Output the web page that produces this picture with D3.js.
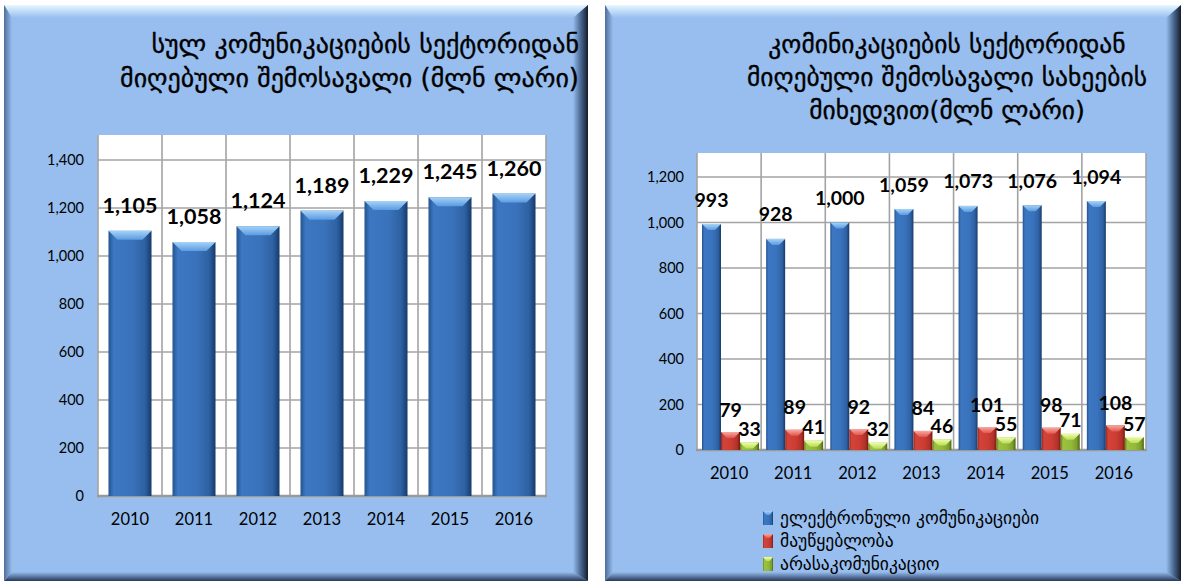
<!DOCTYPE html>
<html><head><meta charset="utf-8">
<script src="https://cdn.jsdelivr.net/npm/d3@7"></script>
<style>
html,body{margin:0;padding:0;background:#fff;}
svg{display:block;}
</style></head>
<body>
<svg id="c" width="1182" height="584"></svg>
<script>
// ---- data ----
const years = ["2010","2011","2012","2013","2014","2015","2016"];
const totalRevenue = [1105,1058,1124,1189,1229,1245,1260];
const electronic = [993,928,1000,1059,1073,1076,1094];
const postal = [79,89,92,84,101,98,108];
const nonCommunication = [33,41,32,46,55,71,57];
const seriesNames = ["ელექტრონული კომუნიკაციები","მაუწყებლობა","არასაკომუნიკაციო"];
const leftTicks = [0,200,400,600,800,1000,1200,1400];
const rightTicks = [0,200,400,600,800,1000,1200];
const leftTitle = ["სულ კომუნიკაციების სექტორიდან","მიღებული შემოსავალი (მლნ ლარი)"];
const rightTitle = ["კომინიკაციების სექტორიდან","მიღებული შემოსავალი სახეების","მიხედვით(მლნ ლარი)"];

const svg = d3.select("#c");
const defs = svg.append("defs");
const BG = "#97BEEF";
const GEO = "'DejaVu Sans', sans-serif";
const NUM = "Lato, 'Open Sans', sans-serif";
const fmt = d3.format(",");

function lg(id, vertical, stops){
  const g = defs.append("linearGradient").attr("id", id)
    .attr("x1",0).attr("y1",0).attr("x2", vertical?0:1).attr("y2", vertical?1:0);
  stops.forEach(([o,c])=>g.append("stop").attr("offset",o).attr("stop-color",c));
}
lg("bvTop", true, [[0,"#E6F7FF"],[1,BG]]);
lg("bvBot", true, [[0,BG],[1,"#26385A"]]);
lg("bvRight", false, [[0,BG],[0.5,"#4C6A93"],[1,"#141D2B"]]);
lg("bvLeft", false, [[0,"#4E6E99"],[1,BG]]);

const palettes = {
  blue:  {side:[[0,"#24538F"],[0.12,"#3C77C2"],[0.55,"#3A73BC"],[0.85,"#2E61A3"],[1,"#173A68"]], top:[[0,"#A6D3F8"],[1,"#5B9BE0"]]},
  red:   {side:[[0,"#9C261E"],[0.12,"#D2443A"],[0.55,"#CC3C32"],[0.85,"#B0322A"],[1,"#771912"]], top:[[0,"#F8A8A0"],[1,"#E0584E"]]},
  green: {side:[[0,"#627F1E"],[0.12,"#9CC23F"],[0.55,"#93B93A"],[0.85,"#7C9E2C"],[1,"#4C6414"]], top:[[0,"#EFFFA8"],[1,"#B8DC55"]]}
};
Object.entries(palettes).forEach(([k,p])=>{ lg("side_"+k,false,p.side); lg("top_"+k,true,p.top); });

function panel(x0,y0,x1,y1){
  const g = svg.append("g");
  g.append("rect").attr("x",x0).attr("y",y0).attr("width",x1-x0).attr("height",y1-y0).attr("fill",BG);
  const t=13,b=9,r=15,l=8;
  g.append("polygon").attr("points",`${x0},${y0} ${x1},${y0} ${x1-r},${y0+t} ${x0+l},${y0+t}`).attr("fill","url(#bvTop)");
  g.append("polygon").attr("points",`${x0},${y1} ${x1},${y1} ${x1-r},${y1-b} ${x0+l},${y1-b}`).attr("fill","url(#bvBot)");
  g.append("polygon").attr("points",`${x1},${y0} ${x1},${y1} ${x1-r},${y1-b} ${x1-r},${y0+t}`).attr("fill","url(#bvRight)");
  g.append("polygon").attr("points",`${x0},${y0} ${x0},${y1} ${x0+l},${y1-b} ${x0+l},${y0+t}`).attr("fill","url(#bvLeft)");
}

function bar3d(g, x, y, w, h, col, bevel){
  g.append("rect").attr("x",x).attr("y",y).attr("width",w).attr("height",Math.max(0,h)).attr("fill",`url(#side_${col})`);
  const bh = Math.min(bevel, h);
  const ins = Math.min(bevel, w/3);
  g.append("polygon")
    .attr("points",`${x},${y} ${x+w},${y} ${x+w-ins},${y+bh} ${x+ins},${y+bh}`)
    .attr("fill",`url(#top_${col})`);
}

function plotFrame(x, y, ticks, top, labelX){
  const [L,R] = x.range();
  const [B] = y.range();
  const g = svg.append("g");
  g.append("rect").attr("x",L).attr("y",top).attr("width",R-L).attr("height",B-top).attr("fill","#fff");
  g.selectAll("line.h").data(ticks).join("line")
    .attr("x1",L).attr("x2",R).attr("y1",d=>y(d)).attr("y2",d=>y(d))
    .attr("stroke","#A3A3A3").attr("stroke-width",1.6);
  const edges = x.domain().map(d=>x(d)).concat([R]);
  g.selectAll("line.v").data(edges).join("line")
    .attr("x1",d=>d).attr("x2",d=>d).attr("y1",top).attr("y2",B)
    .attr("stroke","#A3A3A3").attr("stroke-width",1.6);
  g.append("line").attr("x1",L-1).attr("x2",R+1).attr("y1",B).attr("y2",B)
    .attr("stroke","#9A9A9A").attr("stroke-width",2.5);
  const ya = svg.append("g").attr("transform",`translate(${labelX},0)`)
    .call(d3.axisLeft(y).tickValues(ticks).tickSize(0).tickPadding(0).tickFormat(fmt));
  ya.select(".domain").remove();
  ya.selectAll("text").attr("font-family",NUM).attr("font-size",14.5).attr("fill","#000");
  const xa = svg.append("g").attr("transform",`translate(0,${B+17})`)
    .call(d3.axisBottom(x).tickSize(0).tickPadding(0));
  xa.select(".domain").remove();
  xa.selectAll("text").attr("font-family",NUM).attr("font-size",16.5).attr("fill","#000");
  return g;
}

// ---------- LEFT PANEL ----------
panel(4,5,588,581);
{
  const x = d3.scaleBand().domain(years).range([98,546]).padding(0);
  const y = d3.scaleLinear().domain([0,1400]).range([496,160]);
  plotFrame(x, y, leftTicks, 135, 84);
  const inner = d3.scaleBand().domain(["v"]).range([0,x.bandwidth()]).padding(0.196);
  const g = svg.append("g");
  years.forEach((yr,i)=>{
    const v = totalRevenue[i];
    bar3d(g, x(yr)+inner("v"), y(v), inner.bandwidth(), y(0)-y(v), "blue", 9);
  });
  svg.append("g").selectAll("text").data(years).join("text")
    .attr("x",d=>x(d)+x.bandwidth()/2).attr("y",(d,i)=>y(totalRevenue[i])-26)
    .attr("text-anchor","middle").attr("dominant-baseline","central")
    .attr("font-family",NUM).attr("font-weight","bold").attr("font-size",21.5)
    .text((d,i)=>fmt(totalRevenue[i]));
  svg.append("g").selectAll("text").data(leftTitle).join("text")
    .attr("x",579).attr("y",(d,i)=>53+i*34).attr("text-anchor","end")
    .attr("font-family",GEO).attr("font-size",26).attr("fill","#000")
    .attr("stroke","#000").attr("stroke-width",0.35)
    .text(d=>d);
}

// ---------- RIGHT PANEL ----------
panel(605,5,1181,581);
{
  const x = d3.scaleBand().domain(years).range([697,1146]).padding(0);
  const y = d3.scaleLinear().domain([0,1200]).range([450,177]);
  plotFrame(x, y, rightTicks, 153, 684);
  const series = [
    {name:seriesNames[0], values:electronic, col:"blue", off:25},
    {name:seriesNames[1], values:postal, col:"red", off:23},
    {name:seriesNames[2], values:nonCommunication, col:"green", off:14}
  ];
  const inner = d3.scaleBand().domain(series.map(s=>s.name)).range([5,62]).padding(0);
  const g = svg.append("g");
  series.forEach(s=>{
    years.forEach((yr,i)=>{
      const v = s.values[i];
      bar3d(g, x(yr)+inner(s.name), y(v), inner.bandwidth(), y(0)-y(v), s.col, 6);
    });
  });
  series.forEach(s=>{
    svg.append("g").selectAll("text").data(years).join("text")
      .attr("x",d=>x(d)+inner(s.name)+inner.bandwidth()/2)
      .attr("y",(d,i)=>y(s.values[i])-s.off)
      .attr("text-anchor","middle").attr("dominant-baseline","central")
      .attr("font-family",NUM).attr("font-weight","bold").attr("font-size",19.5)
      .text((d,i)=>fmt(s.values[i]));
  });
  svg.append("g").selectAll("text").data(rightTitle).join("text")
    .attr("x",947).attr("y",(d,i)=>53+i*33).attr("text-anchor","middle")
    .attr("font-family",GEO).attr("font-size",25.5).attr("fill","#000")
    .attr("stroke","#000").attr("stroke-width",0.35)
    .text(d=>d);
  const lgG = svg.append("g");
  series.forEach((s,i)=>{
    const cy = 518 + i*23;
    bar3d(lgG, 763, cy-7, 10, 14, s.col, 4);
    lgG.append("text").attr("x",780).attr("y",cy).attr("dominant-baseline","central")
      .attr("font-family",GEO).attr("font-size",17.5).attr("fill","#000").text(s.name);
  });
}
</script>
</body></html>
